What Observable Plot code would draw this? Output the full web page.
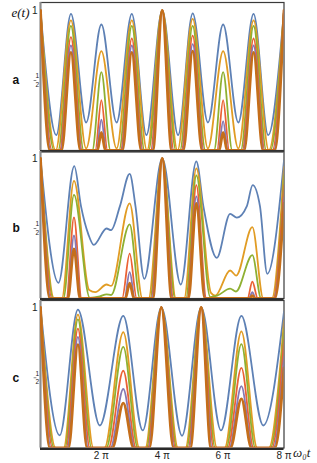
<!DOCTYPE html>
<html><head><meta charset="utf-8">
<script src="https://cdn.jsdelivr.net/npm/d3@7"></script>
<script src="https://cdn.jsdelivr.net/npm/@observablehq/plot@0.6"></script>
<style>
body{margin:0;background:#fff;}
#wrap{position:relative;width:317px;height:463px;overflow:hidden;background:#fff;}
#wrap svg{position:absolute;left:0;}
</style></head><body><div id="wrap"></div>
<script>
// ---- tick labels ----
const xTicks = [2, 4, 6, 8];
const yTickOne = [1];
const yTickHalf = [0.5];
const panelLabels = ["a", "b", "c"];

// ---- series colours (Mathematica default) ----
const seriesColors = ["#5E81B5", "#E19C24", "#8FB032", "#EB6235", "#8778B3", "#C56E1A"];
const seriesWidths = [1.8, 1.8, 1.8, 1.8, 1.8, 2.8];

// ---- panel a : [ω0 t / π, e(t)] ----
const aBlue = [[0,1],[0.52,0.11],[1,0.976],[1.5,0.2],[2,0.9],[2.5,0.2],[3,0.976],[3.48,0.11],[4,1],[4.52,0.11],[5,0.98],[5.5,0.2],[6,0.9],[6.5,0.2],[7,0.976],[7.48,0.11],[8,1]];
const aOrange = [[0,1],[0.5,0],[1,0.93],[1.5,0.015],[2,0.71],[2.5,0.015],[3,0.93],[3.5,0],[4,1],[4.5,0],[5,0.94],[5.5,0.015],[6,0.71],[6.5,0.015],[7,0.93],[7.5,0],[8,1]];
const aGreen = [[0,1],[0.45,0],[0.58,0],[1,0.89],[1.42,0],[1.7,0],[2,0.56],[2.3,0],[2.58,0],[3,0.89],[3.42,0],[3.55,0],[4,1],[4.45,0],[4.58,0],[5,0.89],[5.42,0],[5.7,0],[6,0.56],[6.3,0],[6.58,0],[7,0.89],[7.42,0],[7.55,0],[8,1]];
const aRed = [[0,1],[0.38,0],[0.63,0],[1,0.81],[1.37,0],[1.8,0],[2,0.36],[2.2,0],[2.63,0],[3,0.8],[3.37,0],[3.62,0],[4,1],[4.38,0],[4.63,0],[5,0.82],[5.37,0],[5.8,0],[6,0.36],[6.2,0],[6.63,0],[7,0.8],[7.37,0],[7.62,0],[8,1]];
const aPurple = [[0,1],[0.34,0],[0.66,0],[1,0.75],[1.34,0],[1.84,0],[2,0.22],[2.16,0],[2.66,0],[3,0.75],[3.34,0],[3.66,0],[4,1],[4.34,0],[4.66,0],[5,0.76],[5.34,0],[5.84,0],[6,0.21],[6.16,0],[6.66,0],[7,0.75],[7.34,0],[7.66,0],[8,1]];
const aBrown = [[0,1],[0.31,0],[0.69,0],[1,0.7],[1.31,0],[1.87,0],[2,0.13],[2.13,0],[2.69,0],[3,0.7],[3.31,0],[3.69,0],[4,1],[4.31,0],[4.69,0],[5,0.71],[5.31,0],[5.87,0],[6,0.13],[6.13,0],[6.69,0],[7,0.7],[7.31,0],[7.69,0],[8,1]];

// ---- panel b ----
const bBlue = [[0,1],[0.59,0.112],[1.11,0.945],[1.33,0.66],[1.57,0.46],[1.75,0.383],[2.17,0.5],[2.32,0.488],[2.61,0.66],[2.93,0.89],[3.12,0.66],[3.41,0.14],[4,1],[4.61,0.1],[5.12,0.98],[5.35,0.66],[5.79,0.29],[6.23,0.605],[6.45,0.578],[6.78,0.66],[6.97,0.81],[7.21,0.66],[7.45,0.176],[8,0.985]];
const bOrange = [[0,1],[0.45,0],[0.7,0],[1.1,0.84],[1.6,0.06],[1.8,0.045],[2.17,0.1],[2.32,0.09],[2.93,0.68],[3.35,0],[3.55,0],[4,1],[4.45,0],[4.72,0],[5.12,0.93],[5.6,0.04],[5.74,0.02],[6.23,0.2],[6.43,0.164],[6.96,0.51],[7.32,0],[7.6,0],[8,0.94]];
const bGreen = [[0,1],[0.42,0],[0.75,0],[1.1,0.74],[1.62,0.005],[1.95,0.015],[2.17,0.03],[2.32,0.025],[2.93,0.53],[3.27,0],[3.6,0],[4,1],[4.42,0],[4.78,0],[5.12,0.88],[5.58,0.01],[5.8,0.02],[6.23,0.07],[6.42,0.05],[6.96,0.31],[7.25,0],[7.65,0],[8,0.88]];
const bRed = [[0,1],[0.38,0],[0.85,0],[1.1,0.58],[1.35,0],[2.68,0],[2.93,0.32],[3.16,0],[3.63,0],[4,1],[4.37,0],[4.82,0],[5.12,0.81],[5.45,0],[6.8,0],[6.96,0.12],[7.14,0],[7.65,0],[8,0.81]];
const bPurple = [[0,1],[0.34,0],[0.88,0],[1.1,0.45],[1.32,0],[2.76,0],[2.93,0.19],[3.1,0],[3.66,0],[4,1],[4.34,0],[4.84,0],[5.12,0.73],[5.42,0],[6.85,0],[6.96,0.045],[7.07,0],[7.68,0],[8,0.72]];
const bBrown = [[0,1],[0.31,0],[0.9,0],[1.1,0.355],[1.3,0],[2.79,0],[2.93,0.11],[3.07,0],[3.69,0],[4,1],[4.31,0],[4.86,0],[5.12,0.68],[5.4,0],[6.87,0],[6.96,0.02],[7.05,0],[7.7,0],[8,0.68]];

// ---- panel c ----
const cBlue = [[0,1],[0.63,0.09],[1.23,0.985],[1.95,0.16],[2.72,0.94],[3.36,0.125],[3.97,1],[4.65,0.087],[5.28,1],[5.93,0.125],[6.6,0.94],[7.32,0.16],[8,0.97]];
const cOrange = [[0,1],[0.5,0],[0.76,0],[1.23,0.95],[1.74,0],[2.1,0],[2.72,0.825],[3.25,0],[3.44,0],[3.97,1],[4.52,0],[4.76,0],[5.28,1],[5.8,0],[6.05,0],[6.6,0.83],[7.12,0],[7.5,0],[8,0.91]];
const cGreen = [[0,1],[0.45,0],[0.8,0],[1.23,0.915],[1.68,0],[2.16,0],[2.72,0.72],[3.2,0],[3.48,0],[3.97,1],[4.48,0],[4.8,0],[5.28,1],[5.74,0],[6.1,0],[6.6,0.74],[7.06,0],[7.55,0],[8,0.85]];
const cRed = [[0,1],[0.4,0],[0.84,0],[1.23,0.85],[1.62,0],[2.23,0],[2.72,0.55],[3.14,0],[3.52,0],[3.97,1],[4.44,0],[4.85,0],[5.28,1],[5.69,0],[6.15,0],[6.6,0.57],[7.0,0],[7.6,0],[8,0.77]];
const cPurple = [[0,1],[0.35,0],[0.88,0],[1.23,0.79],[1.57,0],[2.3,0],[2.72,0.42],[3.1,0],[3.55,0],[3.97,1],[4.4,0],[4.88,0],[5.28,1],[5.64,0],[6.2,0],[6.6,0.44],[6.96,0],[7.65,0],[8,0.65]];
const cBrown = [[0,1],[0.31,0],[0.92,0],[1.23,0.735],[1.53,0],[2.36,0],[2.72,0.32],[3.06,0],[3.58,0],[3.97,1],[4.37,0],[4.92,0],[5.28,1],[5.6,0],[6.24,0],[6.6,0.35],[6.93,0],[7.7,0],[8,0.57]];

const sans = "Liberation Sans, Arial, sans-serif";
const serif = "Liberation Serif, Times New Roman, serif";

const layout = [
  {curves:[aBlue,aOrange,aGreen,aRed,aPurple,aBrown], top:0, mt:2, inner:148, mb:2, span:140, title:true, xaxis:false},
  {curves:[bBlue,bOrange,bGreen,bRed,bPurple,bBrown], top:149, mt:2, inner:147, mb:2, span:140, title:false, xaxis:false},
  {curves:[cBlue,cOrange,cGreen,cRed,cPurple,cBrown], top:297, mt:3, inner:147.5, mb:15.5, span:140.5, title:false, xaxis:true}
];

const wrap = document.getElementById("wrap");
layout.forEach((p, k) => {
  const marks = [
    Plot.frame({stroke:"#3a3a3a", strokeWidth:1.2}),
    Plot.ruleY([0], {stroke:"#2a2a2a", strokeWidth:2, dy:1}),
    Plot.ruleX([0], {stroke:"#8c8c8c", strokeWidth:2})
  ];
  p.curves.forEach((c, i) => marks.push(Plot.line(c, {
    x: d => d[0], y: d => d[1], stroke: seriesColors[i], strokeWidth: seriesWidths[i],
    curve: "monotone-x", clip: true
  })));
  // y tick labels: "1" and a stacked fraction 1/2
  marks.push(Plot.text(yTickOne, {y: d => d, frameAnchor:"left", dx:-3, textAnchor:"end", text: d => "1", fontSize:10, fontFamily:sans, fill:"#222"}));
  marks.push(Plot.text(yTickHalf, {y: d => d, frameAnchor:"left", dx:-5, dy:-4.2, text: d => "1", fontSize:6.5, fontFamily:sans, fill:"#222"}));
  marks.push(Plot.ruleY(yTickHalf, {x1: -0.21, x2: -0.12, stroke:"#333", strokeWidth:0.6}));
  marks.push(Plot.text(yTickHalf, {y: d => d, frameAnchor:"left", dx:-5, dy:4.6, text: d => "2", fontSize:6.5, fontFamily:sans, fill:"#222"}));
  // panel letter
  marks.push(Plot.text(yTickHalf, {y: d => d, frameAnchor:"left", dx:-28, text: d => panelLabels[k], fontSize:12, fontWeight:"bold", fontFamily:sans, fill:"#111"}));
  if (p.title) {
    marks.push(Plot.text(yTickOne, {y: d => d, frameAnchor:"left", dx:-29, dy:2, text: d => "e(t)", fontSize:13, fontStyle:"italic", fontFamily:serif, fill:"#111"}));
  }
  if (p.xaxis) {
    marks.push(Plot.axisX(xTicks, {tickSize:0, tickPadding:4, tickFormat: d => d + " \u03c0", fontSize:10, fontFamily:sans, color:"#222"}));
    marks.push(Plot.text([8], {x: d => d, frameAnchor:"bottom", dx:9, dy:9, textAnchor:"start", text: d => "\u03c9\u2080t", fontSize:13, fontStyle:"italic", fontFamily:serif, fill:"#222"}));
  }
  const svg = Plot.plot({
    width: 317,
    height: p.mt + p.inner + p.mb,
    marginLeft: 40, marginRight: 33.5, marginTop: p.mt, marginBottom: p.mb,
    x: {domain:[0, 8], axis: null},
    y: {domain:[0, p.inner / p.span], axis: null},
    style: {background:"transparent", overflow:"visible"},
    marks
  });
  svg.style.top = p.top + "px";
  wrap.appendChild(svg);
});
</script></body></html>
